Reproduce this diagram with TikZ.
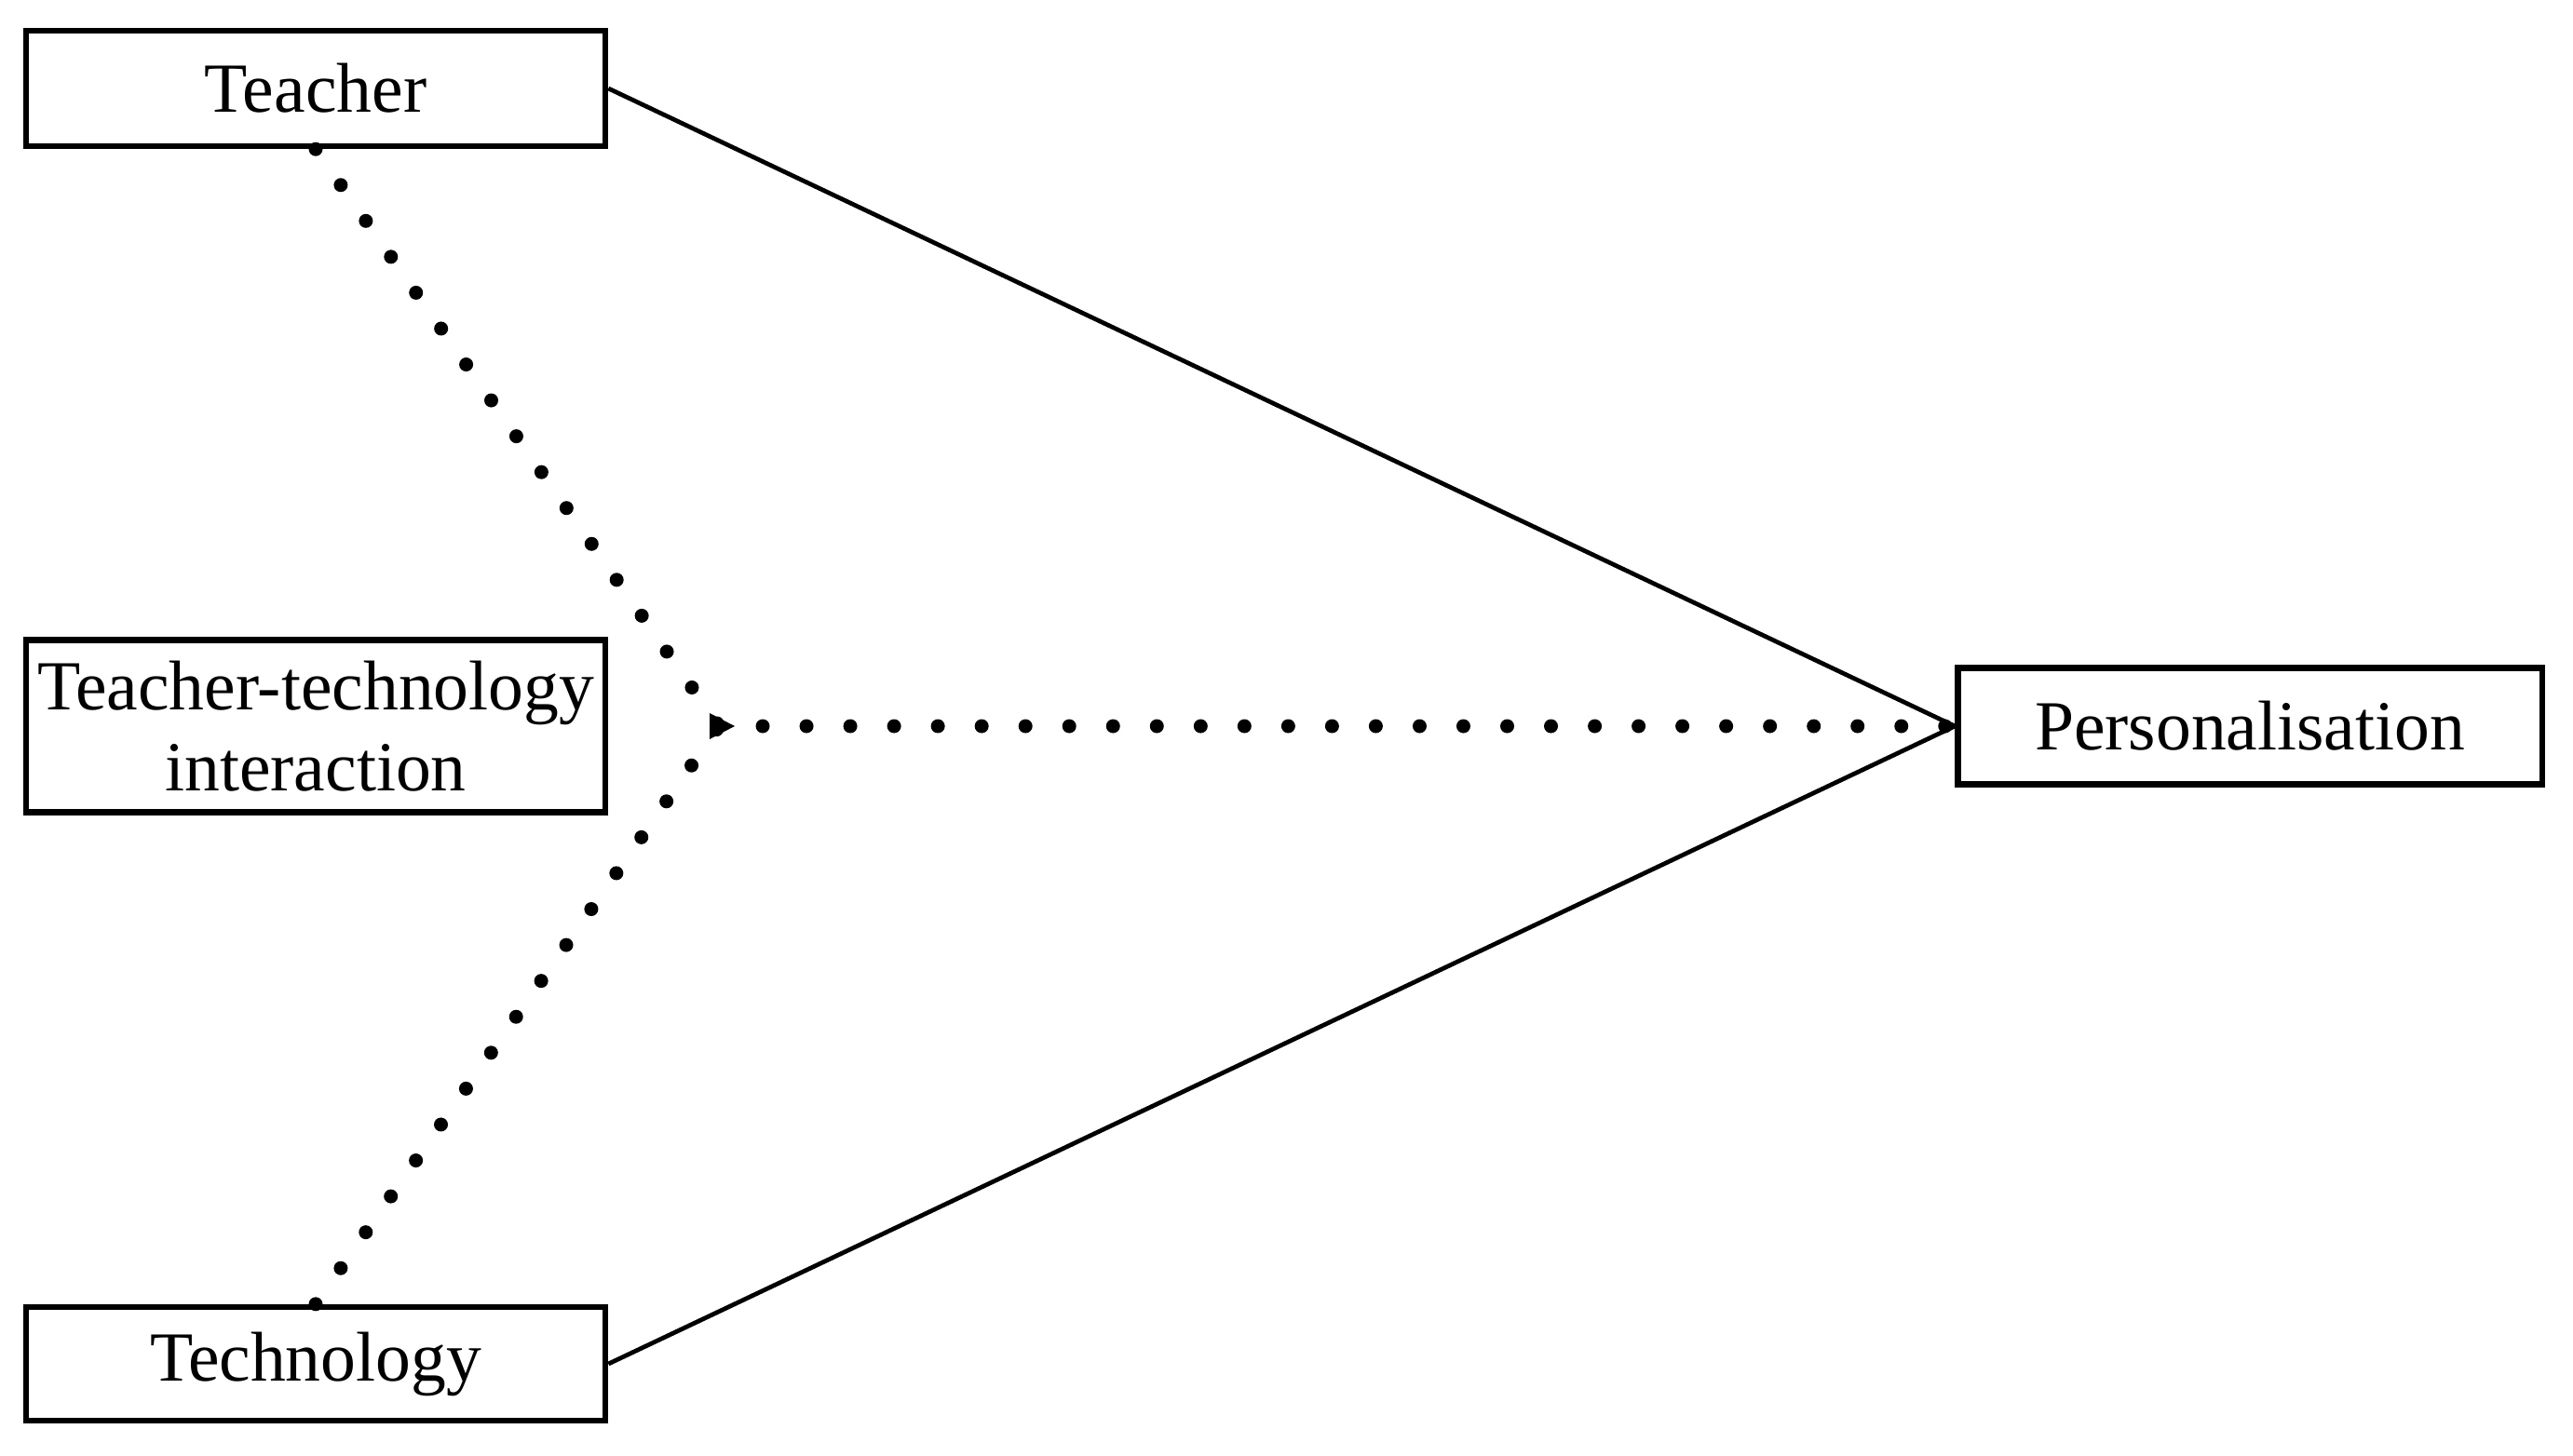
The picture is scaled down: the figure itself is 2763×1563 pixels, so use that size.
\documentclass[tikz,border=0pt]{standalone}
\usepackage{fontspec}
\setmainfont{Liberation Serif}
\begin{document}
\begin{tikzpicture}[x=0.01cm,y=-0.01cm,
  box/.style={draw=black, line width=1.8pt, fill=white, inner sep=0pt, align=center,
    font=\fontsize{21.5pt}{24.7pt}\selectfont},
  solidlink/.style={draw=black, line width=1.35pt},
  dotlink/.style={draw=black, line width=0.15cm, line cap=round, dash pattern=on 0pt off 0.47cm}]
\useasboundingbox[fill=white] (0,0) rectangle (2763,1563);
\node[box, minimum width=6.22cm, minimum height=1.24cm] (teacher) at (339,95) {Teacher};
\node[box, minimum width=6.22cm, minimum height=1.85cm] (tti) at (339,780) {Teacher-technology\\interaction};
\node[box, minimum width=6.22cm, minimum height=1.22cm] (tech) at (339,1465) {Technology};
\node[box, minimum width=6.27cm, minimum height=1.25cm] (pers) at (2416,780) {Personalisation};
\coordinate (conv) at (772,780);
\draw[solidlink] (teacher.east) -- (pers.west);
\draw[solidlink] (tech.east) -- (pers.west);
\draw[dotlink] (teacher.south) -- (conv);
\draw[dotlink] (tech.north) -- (conv);
\draw[dotlink] (conv) -- (pers.west);
\fill[black] ([xshift=0.17cm]conv) -- ([xshift=-0.1cm,yshift=0.14cm]conv) -- ([xshift=-0.1cm,yshift=-0.14cm]conv) -- cycle;
\end{tikzpicture}
\end{document}
